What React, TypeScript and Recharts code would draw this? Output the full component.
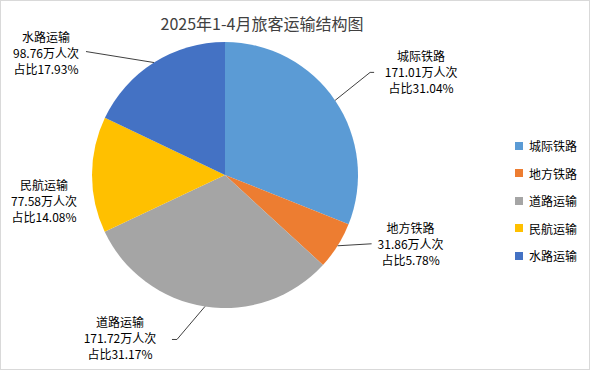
import { PieChart, Pie, Cell, Legend } from 'recharts'

const categories = ['城际铁路', '地方铁路', '道路运输', '民航运输', '水路运输']
const passengers = [171.01, 31.86, 171.72, 77.58, 98.76]
const COLORS = ['#5B9BD5', '#ED7D31', '#A5A5A5', '#FFC000', '#4472C4']

// label placement relative to the slice's edge point, plus leader line bends
const LABEL_OFFSET = [
  { dx: 86, dy: -28, line: [[35, -28], [39, -28]] },
  { dx: 73, dy: -2, line: [[34, -2]] },
  { dx: -85, dy: 32, line: [[-28, 33], [-33, 33]] },
  { dx: -48, dy: 26, line: [] },
  { dx: -108, dy: -10, line: [[-68, -11]] },
]

const total = passengers.reduce((a, b) => a + b, 0)
const data = categories.map((name, i) => ({
  name,
  value: passengers[i],
  pct: ((passengers[i] / total) * 100).toFixed(2),
}))

const FONT = '"Noto Sans CJK SC", "Noto Sans", sans-serif'
const RAD = Math.PI / 180

function renderLabel(props: any) {
  const { cx, cy, midAngle, outerRadius, index } = props
  const ex = cx + outerRadius * Math.cos(-midAngle * RAD)
  const ey = cy + outerRadius * Math.sin(-midAngle * RAD)
  const off = LABEL_OFFSET[index]
  const d = data[index]
  const pts = [[ex, ey], ...off.line.map(([x, y]) => [ex + x, ey + y])]
  const tx = ex + off.dx
  const ty = ey + off.dy
  return (
    <g key={`lbl-${index}`}>
      {pts.length > 1 && (
        <polyline
          points={pts.map(p => p.join(',')).join(' ')}
          fill="none"
          stroke="#404040"
          strokeWidth={1}
        />
      )}
      <text x={tx} y={ty} textAnchor="middle" fontSize={12} fontFamily={FONT} fill="#000">
        <tspan x={tx} dy={-11}>{d.name}</tspan>
        <tspan x={tx} dy={16}>{d.value.toFixed(2)}万人次</tspan>
        <tspan x={tx} dy={16}>占比{d.pct}%</tspan>
      </text>
    </g>
  )
}

function LegendBox() {
  return (
    <div style={{ fontFamily: FONT, fontSize: 12, color: '#000' }}>
      {categories.map((c, i) => (
        <div key={c} style={{ display: 'flex', alignItems: 'center', height: 27.5 }}>
          <span style={{ display: 'inline-block', width: 8, height: 8, background: COLORS[i], marginRight: 6 }} />
          <span>{c}</span>
        </div>
      ))}
    </div>
  )
}

export default function App() {
  return (
    <div
      style={{
        position: 'absolute',
        left: 0,
        top: 0,
        width: 590,
        height: 370,
        background: '#fff',
        boxSizing: 'border-box',
        border: '1px solid #d9d9d9',
      }}
    >
      <div
        style={{
          position: 'absolute',
          left: 0,
          width: 522,
          top: 10,
          textAlign: 'center',
          fontFamily: FONT,
          fontSize: 16,
          color: '#404040',
        }}
      >
        2025年1-4月旅客运输结构图
      </div>
      <PieChart
        width={588}
        height={368}
        margin={{ top: 0, right: 0, bottom: 0, left: 0 }}
        style={{ position: 'absolute', left: 0, top: 0 }}
      >
        <Pie
          data={data}
          dataKey="value"
          nameKey="name"
          cx={224}
          cy={174}
          outerRadius={133}
          startAngle={90}
          endAngle={-270}
          stroke="none"
          label={renderLabel}
          labelLine={false}
          isAnimationActive={false}
        >
          {data.map((_, i) => (
            <Cell key={i} fill={COLORS[i]} />
          ))}
        </Pie>
        <Legend
          content={<LegendBox />}
          wrapperStyle={{ left: 514, top: 131, width: 80 }}
        />
      </PieChart>
    </div>
  )
}
